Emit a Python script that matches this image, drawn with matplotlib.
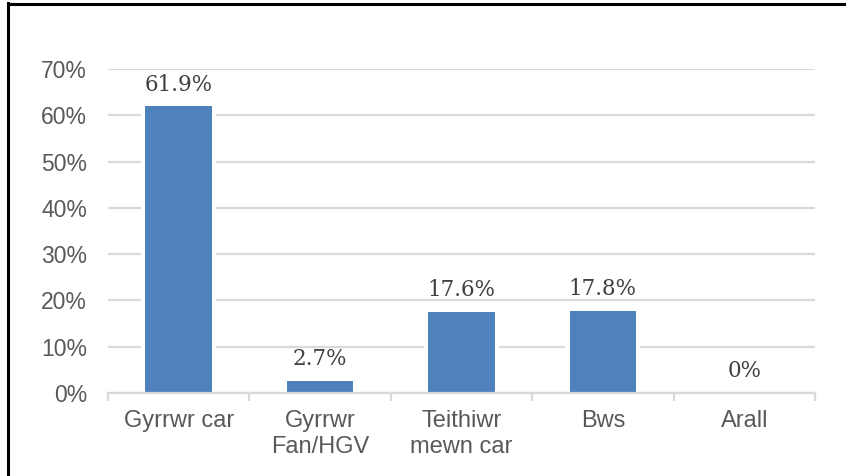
import matplotlib
matplotlib.use("Agg")
import matplotlib.pyplot as plt
from matplotlib.lines import Line2D
from matplotlib.ticker import FuncFormatter, FixedLocator
import numpy as np

categories = ["Gyrrwr car", "Gyrrwr\nFan/HGV", "Teithiwr\nmewn car", "Bws", "Arall"]
values = [61.9, 2.7, 17.6, 17.8, 0.0]
value_labels = ["61.9%", "2.7%", "17.6%", "17.8%", "0%"]
yticks = [0, 10, 20, 30, 40, 50, 60, 70]

BLUE = "#4F81BD"
GRID = "#D9D9D9"
TXT = "#595959"
LBL = "#404040"

fig = plt.figure(figsize=(8.46, 4.76), dpi=100)
fig.patch.set_facecolor("white")
ax = fig.add_axes([108/846, 1-393/476, (815-108)/846, (393-69)/476])

x = np.arange(len(categories))
# white halo behind bars (breaks gridlines)
ax.bar(x, values, width=0.53, color="white", zorder=2, linewidth=0)
ax.bar(x, values, width=0.47, color=BLUE, zorder=3, linewidth=0)

for xi, v, lab in zip(x, values, value_labels):
    ax.annotate(lab, (xi, v), xytext=(0, 11.5), textcoords="offset points",
                ha="center", va="baseline", fontsize=15.5,
                family="DejaVu Serif", color=LBL, zorder=4)

ax.set_xlim(-0.5, len(categories) - 0.5)
ax.set_ylim(0, 70)
ax.set_yticks(yticks)
ax.yaxis.set_major_formatter(FuncFormatter(lambda v, p: f"{int(v)}%"))
ax.grid(axis="y", color=GRID, linewidth=1.6, zorder=1)
ax.set_axisbelow(True)

ax.set_xticks(x)
ax.set_xticklabels(categories, linespacing=1.25)
ax.xaxis.set_minor_locator(FixedLocator(np.arange(-0.5, len(categories), 1.0)))
ax.tick_params(axis="x", which="major", length=0, pad=12, labelsize=17,
               labelcolor=TXT)
ax.tick_params(axis="x", which="minor", length=6, width=1.6, color=GRID)
ax.tick_params(axis="y", length=0, pad=15, labelsize=16.5, labelcolor=TXT)
for t in ax.get_xticklabels() + ax.get_yticklabels():
    t.set_family("Liberation Sans")

for s in ["top", "right", "left"]:
    ax.spines[s].set_visible(False)
ax.spines["bottom"].set_color(GRID)
ax.spines["bottom"].set_linewidth(1.6)
ax.spines["bottom"].set_zorder(5)

# outer border (left and top)
fig.add_artist(Line2D([8/846, 8/846], [0, 1-3/476], transform=fig.transFigure,
                      color="black", linewidth=2.2))
fig.add_artist(Line2D([8/846, 1], [1-3.5/476, 1-3.5/476], transform=fig.transFigure,
                      color="black", linewidth=2.2))

fig.savefig("out.png", dpi=100, facecolor="white")
